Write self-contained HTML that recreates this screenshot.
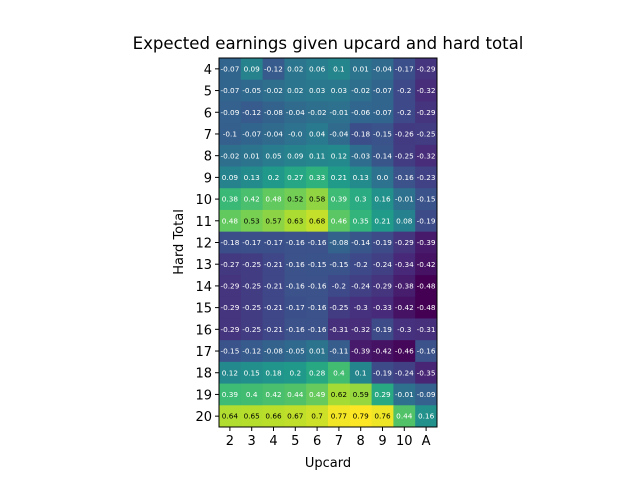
<!DOCTYPE html>
<html><head><meta charset="utf-8"><style>
body{margin:0;background:#fff;}
svg text{font-family:"DejaVu Sans","Liberation Sans",sans-serif;}
</style></head><body>
<svg id="chart" width="640" height="480" xmlns="http://www.w3.org/2000/svg">
<text x="328" y="49" font-size="16.6" text-anchor="middle" fill="#000">Expected earnings given upcard and hard total</text>
<g id="cells"></g>
<g id="axes"></g>
<text x="328" y="467" font-size="13" text-anchor="middle">Upcard</text>
<text transform="translate(183,242) rotate(-90)" font-size="13" text-anchor="middle">Hard Total</text>
</svg>
<script>
const upcards=["2","3","4","5","6","7","8","9","10","A"];
const totals=["4","5","6","7","8","9","10","11","12","13","14","15","16","17","18","19","20"];
const values=[
[-0.07,0.09,-0.12,0.02,0.06,0.1,0.01,-0.04,-0.17,-0.29],
[-0.07,-0.05,-0.02,0.02,0.03,0.03,-0.02,-0.07,-0.2,-0.32],
[-0.09,-0.12,-0.08,-0.04,-0.02,-0.01,-0.06,-0.07,-0.2,-0.29],
[-0.1,-0.07,-0.04,-0.001,0.04,-0.04,-0.18,-0.15,-0.26,-0.25],
[-0.02,0.01,0.05,0.09,0.11,0.12,-0.03,-0.14,-0.25,-0.32],
[0.09,0.13,0.2,0.27,0.33,0.21,0.13,0.0,-0.16,-0.23],
[0.38,0.42,0.48,0.52,0.58,0.39,0.3,0.16,-0.01,-0.15],
[0.48,0.53,0.57,0.63,0.68,0.46,0.35,0.21,0.08,-0.19],
[-0.18,-0.17,-0.17,-0.16,-0.16,-0.08,-0.14,-0.19,-0.29,-0.39],
[-0.27,-0.25,-0.21,-0.16,-0.15,-0.15,-0.2,-0.24,-0.34,-0.42],
[-0.29,-0.25,-0.21,-0.16,-0.16,-0.2,-0.24,-0.29,-0.38,-0.48],
[-0.29,-0.25,-0.21,-0.17,-0.16,-0.25,-0.3,-0.33,-0.42,-0.48],
[-0.29,-0.25,-0.21,-0.16,-0.16,-0.31,-0.32,-0.19,-0.3,-0.31],
[-0.15,-0.12,-0.08,-0.05,0.01,-0.11,-0.39,-0.42,-0.46,-0.16],
[0.12,0.15,0.18,0.2,0.28,0.4,0.1,-0.19,-0.24,-0.35],
[0.39,0.4,0.42,0.44,0.49,0.62,0.59,0.29,-0.01,-0.09],
[0.64,0.65,0.66,0.67,0.7,0.77,0.79,0.76,0.44,0.16]];
const X0=219,X1=437,Y0=58,Y1=427;
const cw=(X1-X0)/upcards.length, ch=(Y1-Y0)/totals.length;
const xPos=i=>X0+i*cw, yPos=j=>Y0+j*ch;
const VIR=[[68,1,84],[72,40,120],[62,74,137],[49,104,142],[38,130,142],[31,158,137],[53,183,121],[109,205,89],[180,222,44],[253,231,37]];
function vir(t){t=Math.max(0,Math.min(1,t));const p=t*(VIR.length-1),i=Math.min(Math.floor(p),VIR.length-2),f=p-i;
return 'rgb('+VIR[i].map((c,k)=>Math.round(c+(VIR[i+1][k]-c)*f)).join(',')+')';}
function fmt(v){const r=Math.round(v*100)/100;let s=String(Math.abs(r));if(s.indexOf('.')<0)s+='.0';return (v<0?'-':'')+s;}
const flat=values.flat(),vmin=Math.min(...flat),vmax=Math.max(...flat);
const NS="http://www.w3.org/2000/svg";
const cells=document.getElementById('cells'),axes=document.getElementById('axes');
function mk(tag,attrs,parent){const e=document.createElementNS(NS,tag);for(const k in attrs)e.setAttribute(k,attrs[k]);parent.appendChild(e);return e;}
values.forEach((row,j)=>row.forEach((v,i)=>{
 const t=(v-vmin)/(vmax-vmin);
 const r=mk('rect',{x:xPos(i),y:yPos(j),width:cw+0.5,height:ch+0.5,fill:vir(t)},cells);
 
 
 const tx=mk('text',{x:xPos(i)+cw/2,y:yPos(j)+ch/2+2.6,'font-size':7.3,'text-anchor':'middle',fill:t>0.78?'#000':'#fff'},cells);
 tx.textContent=fmt(v);
 
 
}));
const fr=mk('rect',{x:X0,y:Y0,width:X1-X0,height:Y1-Y0,fill:'none',stroke:'#000','stroke-width':1},axes);


upcards.forEach((u,i)=>{const x=xPos(i)+cw/2;
 mk('line',{x1:x,x2:x,y1:Y1,y2:Y1+4,stroke:'#000'},axes);
 const t=mk('text',{x:x,y:Y1+18,'font-size':13,'text-anchor':'middle'},axes);t.textContent=u;
 
 });
totals.forEach((h,j)=>{const y=yPos(j)+ch/2;
 mk('line',{x1:X0-4,x2:X0,y1:y,y2:y,stroke:'#000'},axes);
 const t=mk('text',{x:X0-7,y:y+5,'font-size':13,'text-anchor':'end'},axes);t.textContent=h;
 
 });
</script>
</body></html>
